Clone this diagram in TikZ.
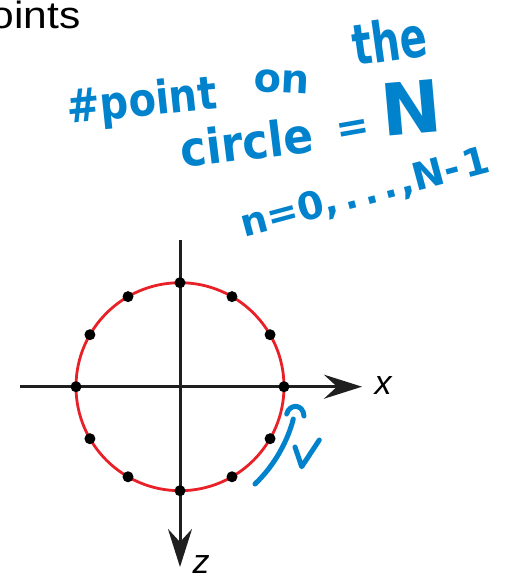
\documentclass[tikz,border=0pt]{standalone}
\usepackage{fontspec}
\setmainfont{Liberation Sans}
\newfontfamily\hwfont{DejaVu Sans}
\usetikzlibrary{arrows.meta}
\definecolor{hwblue}{RGB}{0,130,205}
\definecolor{circred}{RGB}{232,32,40}
\newcommand\hwsize[1]{\hwfont\bfseries\fontsize{#1}{#1}\selectfont}
\begin{document}
\begin{tikzpicture}[x=1pt,y=-1pt,
  hw/.style={text=hwblue, inner sep=0pt, anchor=base west},
  axis/.style={line width=3pt, draw=black!88, -{Stealth[length=38pt,width=24pt,inset=13pt]}},
  dot/.style={circle, fill=black, inner sep=0pt, minimum size=11pt},
  lab/.style={inner sep=0pt, font=\fontsize{34}{40}\selectfont\itshape},
  scribble/.style={draw=hwblue, line width=5pt, line cap=round, line join=round}]

\useasboundingbox (0,0) rectangle (510,579);
\clip (0,0) rectangle (510,579);
\fill[white] (0,0) rectangle (510,579);

% partial title
\node[inner sep=0pt, anchor=base east, font=\fontsize{38}{44}\selectfont, xscale=1.12] (title) at (81,28.3) {oints};

% handwriting
\node[hw, font=\hwsize{40}, rotate=6, yscale=1.15] (w1) at (68,124) {\#point};
\node[hw, font=\hwsize{40}, rotate=-3] (w2) at (253,91) {on};
\node[hw, font=\hwsize{40}, rotate=8, yscale=1.4] (w3) at (355,66) {the};
\node[hw, font=\hwsize{44}, rotate=7, yscale=1.1] (w4) at (182,168) {circle};
\node[hw, font=\hwsize{40}, rotate=10] (w5) at (338,144) {=};
\node[hw, font=\hwsize{72}, rotate=5] (w6) at (383,137) {N};
\node[hw, font=\hwsize{38}, rotate=15] (w7) at (244,238) {n=0,\hspace{6pt}.\hspace{6pt}.\hspace{6pt}.\hspace{3pt},N-\hspace{4pt}1};

% circle
\coordinate (O) at (180,386.7);
\draw[circred, line width=2.8pt] (O) circle[radius=104pt];

% axes
\coordinate (xs) at (20,386.7);
\coordinate (xe) at (362,386.7);
\coordinate (zs) at (180,240);
\coordinate (ze) at (180,567);
\draw[axis] (xs) -- (xe);
\draw[axis] (zs) -- (ze);

% points
\foreach \a in {0,30,...,330}
  \node[dot] (p\a) at ([shift={(\a:104pt)}]O) {};

% axis labels
\node[lab] (xl) at (383,386) {x};
\node[lab] (zl) at (201,565) {z};

% handwritten mark near the circle
\draw[scribble] (286.7,414) .. controls (289,404) and (303,403) .. (304,416);
\draw[scribble] (293.3,419) .. controls (288,440) and (275,465) .. (255,484);
\draw[scribble] (295,447) -- (301.7,466.7) -- (319.3,440);
\end{tikzpicture}
\end{document}
